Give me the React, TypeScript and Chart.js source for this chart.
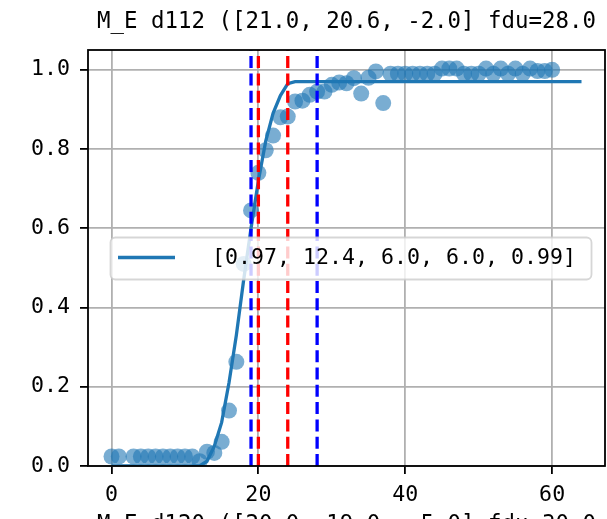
import React, { useEffect, useRef } from "react";
import { Chart, registerables } from "chart.js";

Chart.register(...registerables);

const titleText = "M_E d112 ([21.0, 20.6, -2.0] fdu=28.0";
const nextTitleText = "M_E d120 ([20.0, 19.0, -5.0] fdu=30.0";
const legendLabel = "[0.97, 12.4, 6.0, 6.0, 0.99]";

const scatterX = [
  0, 1, 3, 4, 5, 6, 7, 8, 9, 10, 11, 12, 13, 14, 15, 16, 17, 18, 19, 20,
  21, 22, 23, 24, 25, 26, 27, 28, 29, 30, 31, 32, 33, 34, 35, 36, 37, 38, 39, 40,
  41, 42, 43, 44, 45, 46, 47, 48, 49, 50, 51, 52, 53, 54, 55, 56, 57, 58, 59, 60,
];
const scatterY = [
  0.024, 0.024, 0.024, 0.024, 0.024, 0.024, 0.024, 0.024, 0.024, 0.024, 0.024, 0.012, 0.036, 0.033, 0.061, 0.14, 0.263, 0.51, 0.645, 0.74,
  0.797, 0.834, 0.88, 0.882, 0.92, 0.922, 0.937, 0.945, 0.945, 0.962, 0.968, 0.966, 0.979, 0.94, 0.98, 0.996, 0.916, 0.99, 0.99, 0.99,
  0.99, 0.99, 0.99, 0.99, 1.003, 1.003, 1.003, 0.99, 0.99, 0.99, 1.003, 0.99, 1.003, 0.99, 1.003, 0.99, 1.003, 0.997, 0.997, 1.0,
];

const fitX = [
  0, 1, 2, 3, 4, 5, 6, 7, 8, 9, 10, 11, 12, 13, 14, 15, 16, 17, 18, 19, 20,
  21, 22, 23, 24, 25, 26, 27, 28, 29, 30, 31, 32, 33, 34, 35, 36, 37, 38, 39, 40,
  41, 42, 43, 44, 45, 46, 47, 48, 49, 50, 51, 52, 53, 54, 55, 56, 57, 58, 59, 60,
  61, 62, 63, 64,
];
const fitY = [
  0, 0, 0, 0, 0, 0, 0, 0, 0, 0, 0, 0, 0, 0.012, 0.05, 0.11, 0.21, 0.33, 0.47, 0.6, 0.72,
  0.82, 0.89, 0.935, 0.965, 0.97, 0.97, 0.97, 0.97, 0.97, 0.97, 0.97, 0.97, 0.97, 0.97, 0.97, 0.97, 0.97, 0.97, 0.97, 0.97,
  0.97, 0.97, 0.97, 0.97, 0.97, 0.97, 0.97, 0.97, 0.97, 0.97, 0.97, 0.97, 0.97, 0.97, 0.97, 0.97, 0.97, 0.97, 0.97, 0.97,
  0.97, 0.97, 0.97, 0.97,
];

const blueLines = [19, 28];
const redLines = [20, 24];

const xTicks = [0, 20, 40, 60];
const yTicks = [0, 0.2, 0.4, 0.6, 0.8, 1.0];
const xMin = -3.2;
const xMax = 67.2;
const yMin = 0;
const yMax = 1.05;

const FONT = "'DejaVu Sans Mono', monospace";
const BLUE = "#1f77b4";

const decorPlugin = {
  id: "decor",
  afterDatasetsDraw(chart: any) {
    const { ctx, chartArea: a } = chart;
    ctx.save();
    // frame (spines)
    ctx.strokeStyle = "#000";
    ctx.lineWidth = 1.8;
    ctx.strokeRect(a.left, a.top, a.right - a.left, a.bottom - a.top);

    // legend
    const lx = a.left + 22.5;
    const ly = 237.5;
    const lw = 481;
    const lh = 42;
    ctx.beginPath();
    (ctx as any).roundRect(lx, ly, lw, lh, 5);
    ctx.fillStyle = "rgba(255,255,255,0.8)";
    ctx.fill();
    ctx.strokeStyle = "rgba(204,204,204,0.8)";
    ctx.lineWidth = 1.8;
    ctx.stroke();
    ctx.beginPath();
    ctx.moveTo(lx + 7.5, ly + 20);
    ctx.lineTo(lx + 64.5, ly + 20);
    ctx.strokeStyle = BLUE;
    ctx.lineWidth = 3.3;
    ctx.stroke();
    ctx.fillStyle = "#000";
    ctx.font = `21.6px ${FONT}`;
    ctx.textBaseline = "middle";
    ctx.textAlign = "left";
    ctx.fillText(legendLabel, lx + 101.5, ly + 21);

    // titles
    const cx = (a.left + a.right) / 2;
    ctx.font = `22.4px ${FONT}`;
    ctx.textAlign = "center";
    ctx.textBaseline = "alphabetic";
    ctx.fillText(titleText, cx, 28);
    ctx.fillText(nextTitleText, cx, 531);
    ctx.restore();
  },
};

export default function App() {
  const ref = useRef<HTMLCanvasElement | null>(null);

  useEffect(() => {
    if (!ref.current) return;
    const vline = (v: number, color: string, order: number) => ({
      data: [
        { x: v, y: yMin },
        { x: v, y: yMax },
      ],
      showLine: true,
      borderColor: color,
      borderWidth: 3.3,
      borderDash: [12, 5.3],
      pointRadius: 0,
      order,
    });
    const chart = new Chart(ref.current, {
      type: "scatter",
      data: {
        datasets: [
          ...blueLines.map((v) => vline(v, "#0000ff", 1)),
          ...redLines.map((v) => vline(v, "#ff0000", 1)),
          {
            data: fitX.map((x, i) => ({ x, y: fitY[i] })),
            showLine: true,
            borderColor: BLUE,
            borderWidth: 3.3,
            pointRadius: 0,
            order: 2,
          },
          {
            data: scatterX.map((x, i) => ({ x, y: scatterY[i] })),
            backgroundColor: "rgba(31,119,180,0.6)",
            borderWidth: 0,
            pointRadius: 8,
            order: 3,
          },
        ] as any,
      },
      options: {
        responsive: false,
        animation: false,
        devicePixelRatio: 1,
        layout: { autoPadding: false, padding: { top: 50, right: 2, left: 0, bottom: 0 } },
        plugins: {
          legend: { display: false },
          tooltip: { enabled: false },
          title: { display: false },
        },
        scales: {
          x: {
            type: "linear",
            min: xMin,
            max: xMax,
            afterBuildTicks: (axis: any) => {
              axis.ticks = xTicks.map((v) => ({ value: v }));
            },
            afterFit: (axis: any) => {
              axis.height = 53;
              axis.paddingLeft = 0;
              axis.paddingRight = 0;
            },
            grid: {
              color: "#b0b0b0",
              lineWidth: 1.8,
              tickColor: "#000",
              tickLength: 8,
              tickWidth: 1.8,
            },
            border: { display: false },
            ticks: {
              color: "#000",
              font: { family: FONT, size: 21.6 },
              padding: 8,
              maxRotation: 0,
              callback: (v: any) => String(v),
            },
          },
          y: {
            type: "linear",
            min: yMin,
            max: yMax,
            afterBuildTicks: (axis: any) => {
              axis.ticks = yTicks.map((v) => ({ value: v }));
            },
            afterFit: (axis: any) => {
              axis.width = 88;
              axis.paddingTop = 0;
              axis.paddingBottom = 0;
            },
            grid: {
              color: "#b0b0b0",
              lineWidth: 1.8,
              tickColor: "#000",
              tickLength: 8,
              tickWidth: 1.8,
            },
            border: { display: false },
            ticks: {
              color: "#000",
              font: { family: FONT, size: 21.6 },
              padding: 10,
              callback: (v: any) => Number(v).toFixed(1),
            },
          },
        },
      } as any,
      plugins: [decorPlugin],
    });
    return () => chart.destroy();
  }, []);

  return (
    <div style={{ position: "absolute", left: 0, top: 0, width: 607, height: 519, overflow: "hidden", background: "#fff" }}>
      <canvas ref={ref} width={607} height={519} style={{ display: "block" }} />
    </div>
  );
}
